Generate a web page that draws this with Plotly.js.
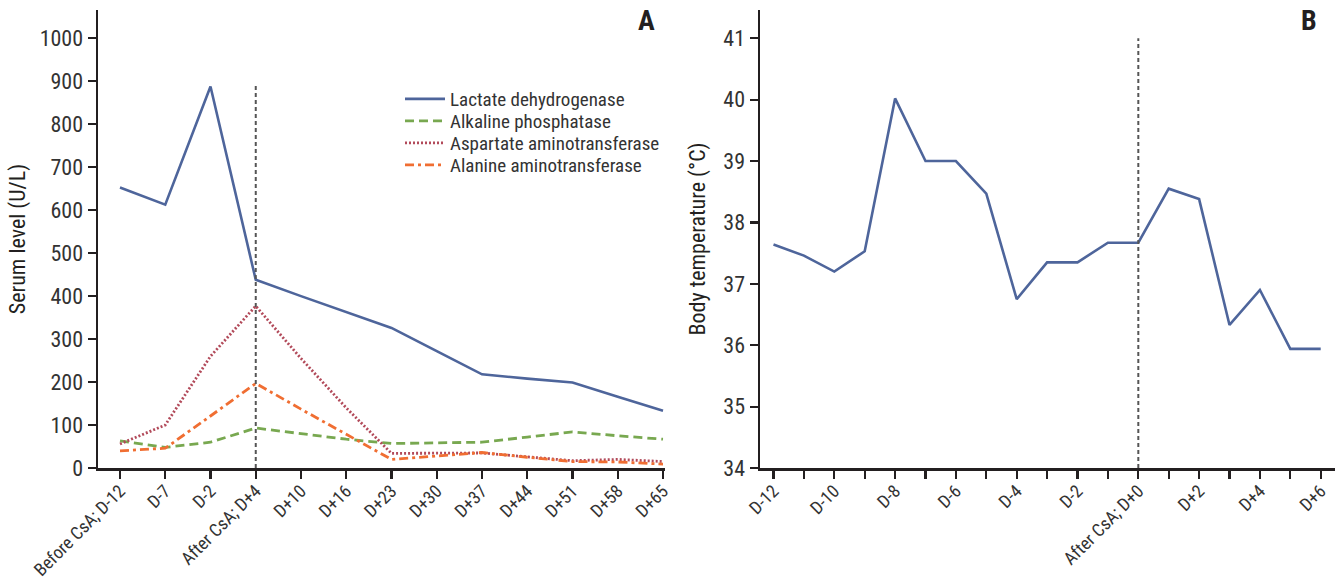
<!DOCTYPE html>
<html>
<head>
<meta charset="utf-8">
<script src="https://cdn.plot.ly/plotly-3.0.1.min.js"></script>
<style>html,body{margin:0;padding:0;background:#fff;}#chart{width:1342px;height:583px;}</style>
</head>
<body>
<div id="chart"></div>
<script>
// ---- Panel A data ----
const daysA = ['Before CsA; D-12','D-7','D-2','After CsA; D+4','D+10','D+16','D+23','D+30','D+37','D+44','D+51','D+58','D+65'];
const ldh = [653, 613, 888, 438, 400, 363, 326, 272, 218, 208, 199, 166, 133];
const alp = [63, 48, 60, 93, 80, 67, 57, 58, 60, 72, 84, 75, 67];
const ast = [56, 100, 260, 377, 255, 140, 34, 34, 35, 26, 17, 20, 15];
const alt = [40, 46, 121, 197, 137, 78, 20, 28, 36, 25, 15, 14, 9];
const seriesNames = ['Lactate dehydrogenase','Alkaline phosphatase','Aspartate aminotransferase','Alanine aminotransferase'];
const cutA = 'After CsA; D+4';
const cutATop = 889;

// ---- Panel B data ----
const daysB = ['D-12','D-11','D-10','D-9','D-8','D-7','D-6','D-5','D-4','D-3','D-2','D-1','After CsA; D+0','D+1','D+2','D+3','D+4','D+5','D+6'];
const tickTextB = ['D-12','','D-10','','D-8','','D-6','','D-4','','D-2','','After CsA; D+0','','D+2','','D+4','','D+6'];
const temp = [37.64, 37.46, 37.20, 37.53, 40.02, 39.00, 39.00, 38.47, 36.75, 37.35, 37.35, 37.67, 37.67, 38.55, 38.38, 36.33, 36.90, 35.94, 35.94];
const cutB = 'After CsA; D+0';

const FONT = "'Liberation Sans Narrow', 'Arial Narrow', 'Roboto Condensed', sans-serif";
const TXT = '#333333';
const AX = '#231f20';

const colors = ['#4e659b', '#78a850', '#b24a5a', '#f06e32'];
const dashes = ['solid', '9px,5px', '2px,2px', '9px,4px,3px,4px'];
const valsA = [ldh, alp, ast, alt];

const traces = valsA.map((v, i) => ({
  type: 'scatter', mode: 'lines',
  x: daysA, y: v, name: seriesNames[i],
  xaxis: 'x', yaxis: 'y',
  line: {color: colors[i], width: i === 0 ? 2.6 : 2.8, dash: dashes[i]},
  legend: i === 0 ? 'legend' : 'legend' + (i + 1),
  hoverinfo: 'x+y+name'
}));
traces.push({
  type: 'scatter', mode: 'lines',
  x: daysB, y: temp, name: 'Body temperature',
  xaxis: 'x2', yaxis: 'y2', showlegend: false,
  line: {color: colors[0], width: 2.6}
});

// pixel helpers for paper placement
const W = 1342, H = 583, mL = 98, mR = 7, mT = 10, mB = 115;
const pw = W - mL - mR, ph = H - mT - mB;
const px = x => (x - mL) / pw;
const py = y => (H - mB - y) / ph;

const rowsY = [99, 121, 143, 165];
const legendBase = {
  x: px(400), xanchor: 'left', yanchor: 'middle',
  bgcolor: 'rgba(0,0,0,0)', borderwidth: 0,
  font: {family: FONT, size: 19, color: TXT},
  itemwidth: 40, tracegroupgap: 0
};
const legends = {};
rowsY.forEach((ry, i) => {
  legends[i === 0 ? 'legend' : 'legend' + (i + 1)] = Object.assign({}, legendBase, {y: py(ry)});
});

const axisCommon = {
  showline: true, linecolor: AX, linewidth: 2.5,
  ticks: 'outside', ticklen: 8, tickwidth: 2.2, tickcolor: AX,
  showgrid: false, zeroline: false,
  tickfont: {family: FONT, size: 18, color: TXT}
};

const layout = Object.assign({
  width: W, height: H,
  margin: {l: mL, r: mR, t: mT, b: mB},
  paper_bgcolor: '#fff', plot_bgcolor: '#fff',
  showlegend: true,
  font: {family: FONT, color: TXT},
  xaxis: Object.assign({}, axisCommon, {
    domain: [0, px(665)], anchor: 'y', type: 'category',
    categoryorder: 'array', categoryarray: daysA,
    range: [-0.486, 12.044], tickangle: -45, ticklabelstandoff: -5
  }),
  yaxis: Object.assign({}, axisCommon, {
    domain: [0, 1], anchor: 'x', range: [0, 1066],
    tickmode: 'linear', tick0: 0, dtick: 100,
    tickfont: {family: FONT, size: 22, color: TXT},
    title: {text: 'Serum level (U/L)', font: {family: FONT, size: 22, color: AX}, standoff: 8}
  }),
  xaxis2: Object.assign({}, axisCommon, {
    domain: [px(760), 1], anchor: 'y2', type: 'category',
    categoryorder: 'array', categoryarray: daysB,
    tickmode: 'array', tickvals: daysB, ticktext: tickTextB,
    range: [-0.444, 18.47], tickangle: -45, ticklabelstandoff: -5
  }),
  yaxis2: Object.assign({}, axisCommon, {
    domain: [0, 1], anchor: 'x2', range: [34, 41.46],
    tickmode: 'linear', tick0: 34, dtick: 1,
    tickfont: {family: FONT, size: 22, color: TXT},
    title: {text: 'Body temperature (°C)', font: {family: FONT, size: 22, color: AX}, standoff: 12}
  }),
  shapes: [
    {type: 'line', xref: 'x', yref: 'y', x0: daysA.indexOf(cutA), x1: daysA.indexOf(cutA), y0: 0, y1: cutATop,
     line: {color: '#555', width: 2, dash: '4px,3px'}},
    {type: 'line', xref: 'x2', yref: 'y2', x0: daysB.indexOf(cutB), x1: daysB.indexOf(cutB), y0: 34, y1: 41,
     line: {color: '#555', width: 2, dash: '4px,3px'}}
  ],
  annotations: [
    {text: '<b>A</b>', xref: 'paper', yref: 'paper', x: px(646), y: py(20), xanchor: 'center', yanchor: 'middle',
     showarrow: false, font: {family: FONT, size: 28, color: AX}},
    {text: '<b>B</b>', xref: 'paper', yref: 'paper', x: px(1309), y: py(20), xanchor: 'center', yanchor: 'middle',
     showarrow: false, font: {family: FONT, size: 28, color: AX}}
  ]
}, legends);

Plotly.newPlot('chart', traces, layout, {displayModeBar: false, staticPlot: true});
</script>
</body>
</html>
